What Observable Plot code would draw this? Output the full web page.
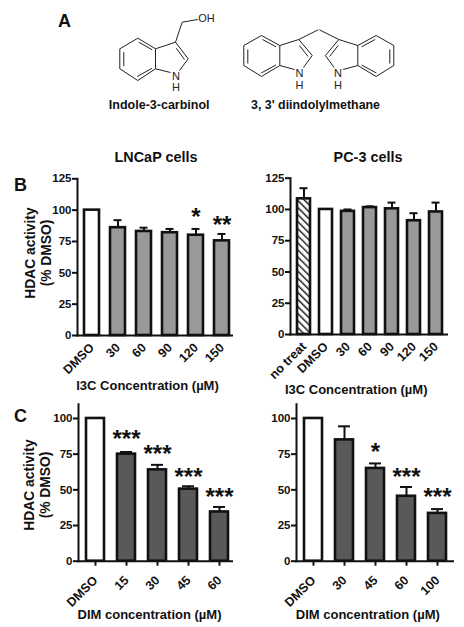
<!DOCTYPE html>
<html><head><meta charset="utf-8">
<script src="https://cdn.jsdelivr.net/npm/d3@7"></script>
<script src="https://cdn.jsdelivr.net/npm/@observablehq/plot@0.6"></script>
<style>
html,body{margin:0;padding:0;background:#fff}
#page{position:relative;width:464px;height:627px;overflow:hidden}
#page svg{position:absolute;background:transparent;overflow:visible}
</style></head><body><div id="page"></div>
<script>
const FONT = '"Liberation Sans", Arial, sans-serif';
// Panel B, LNCaP
const lncapCats = ["DMSO","30","60","90","120","150"];
const lncapMean = [100,86,83,82,80,75.5];
const lncapErr  = [null,92,86,85,85,81];
const lncapStars = [null,null,null,null,"*","**"];
const lncapStarY = [null,null,null,null,97,90.5];
// Panel B, PC-3
const pc3Cats = ["no treat","DMSO","30","60","90","120","150"];
const pc3Mean = [108.5,100,98.5,101.5,100.5,91,98];
const pc3Err  = [117,null,100,102.5,105.5,97,105.5];
// Panel C, left
const dimLCats = ["DMSO","15","30","45","60"];
const dimLMean = [100,75,64,50.5,34.5];
const dimLErr  = [null,76.5,67.5,52.5,38];
const dimLStars = [null,"***","***","***","***"];
const dimLStarY = [null,88,77,61.5,47];
// Panel C, right
const dimRCats = ["DMSO","30","45","60","100"];
const dimRMean = [100,85,65,45.5,33.5];
const dimRErr  = [null,94.5,68.5,52,36.5];
const dimRStars = [null,null,"*","***","***"];
const dimRStarY = [null,null,79,61.5,47.5];

// Chemical structures (drawing, not data)
const indoleBonds = [
 [137.3,37.7,155,48.3],[155,48.3,155,68.3],[155,68.3,137.3,80],[137.3,80,119.3,68.3],[119.3,68.3,119.3,48.3],[119.3,48.3,137.3,37.7],
 [123.3,51.7,123.3,65.7],[138.3,41.7,151.7,49.3],[136.7,76,151.7,67.7],
 [155,48.3,175,41.7],[175,41.7,187.7,58.3],[175.7,47.7,184,59],[187.7,58.3,179,70],[155,68.3,170,72],
 [175,41.7,181.7,21.7],[181.7,21.7,197.3,19]];
const dimHalf = [
 [261,35,279.3,45],[279.3,45,279.3,65],[279.3,65,261,76],[261,76,243.3,65],[243.3,65,243.3,45],[243.3,45,261,35],
 [247.3,49,247.3,63],[262,39,275.5,46.3],[260.7,72.5,275.5,64.5],
 [279.3,45,298.3,39],[298.3,39,311.7,55],[299,45,307.5,56],[311.7,55,303,67],[279.3,65,294,69],
 [298.3,39,317.7,29.3]];
const dimBonds = dimHalf.concat(dimHalf.map(([a,b,c,d])=>[636.6-a,b,636.6-c,d]));
const bonds = indoleBonds.concat(dimBonds);
const atoms = [["OH",206,17.7],["N",175.5,75.7],["H",175.5,87.3],["N",299,72.7],["H",299,85],["N",337.4,72.7],["H",337.4,85]];
const heads = [
 ["Indole-3-carbinol",158.7,104.3,12.5],["3, 3' diindolylmethane",315,104.3,12.4],
 ["LNCaP cells",155.5,157,14.4],["PC-3 cells",367.5,157,14.4],
 ["A",64,21,18],["B",20,185,18],["C",20,416,18]];

const page = document.getElementById("page");
const overlay = Plot.plot({
  width:464,height:627,margin:0,
  x:{domain:[0,464],range:[0,464],axis:null},
  y:{domain:[0,627],range:[0,627],axis:null},
  style:{fontFamily:FONT,background:"transparent"},
  marks:[
    Plot.link(bonds,{x1:d=>d[0],y1:d=>d[1],x2:d=>d[2],y2:d=>d[3],stroke:"#222",strokeWidth:1}),
    Plot.text(atoms,{text:d=>d[0],x:d=>d[1],y:d=>d[2],fontSize:11,fill:"#222"}),
    Plot.text(heads,{text:d=>d[0],x:d=>d[1],y:d=>d[2],fontSize:d=>d[3],fontWeight:"bold",fill:"#111"})
  ]});
overlay.style.left="0";overlay.style.top="0";page.appendChild(overlay);

function panel(o){
  const rows=o.cats.map((c,i)=>({c,m:o.mean[i],e:o.err[i],s:o.stars?o.stars[i]:null,sy:o.starY?o.starY[i]:null,i}));
  const isWhite=d=>d.c==="DMSO", isHatch=d=>d.c==="no treat";
  const fill=d=>isWhite(d)?"#fff":isHatch(d)?"url(#hatch)":o.color;
  const withErr=rows.filter(d=>d.e!=null), withStar=rows.filter(d=>d.s);
  const n=o.cats.length, step=(o.last-o.first)/(n-1), inner=1-o.band/step;
  const outer=(o.first-o.x0-o.band/2)/step, x1=o.last+o.band/2+outer*step;
  const W=o.right-o.left0, H=o.bottom+60-o.top0;
  const svg=Plot.plot({
    width:W,height:H,
    marginLeft:o.x0-o.left0,marginRight:W-(x1-o.left0),
    marginTop:o.yTop-o.top0,marginBottom:H-(o.y0-o.top0),
    style:{fontFamily:FONT,fontWeight:"bold",background:"transparent",color:"#111"},
    color:{type:"identity"},
    x:{domain:o.cats,paddingInner:inner,paddingOuter:outer,align:.5,label:null},
    y:{domain:[0,o.yMax],label:null},
    marks:[
      Plot.ruleX(withErr,{x:"c",y1:"m",y2:"e",stroke:"#111",strokeWidth:2}),
      Plot.tickY(withErr,{x:"c",y:"e",stroke:"#111",strokeWidth:2,insetLeft:o.capInset,insetRight:o.capInset}),
      Plot.barY(rows,{x:"c",y:"m",fill,stroke:"#111",strokeWidth:2.6}),
      Plot.axisY({ticks:[0,25,50,75,100,125].filter(t=>t<=o.yMax),tickSize:5,tickPadding:1,strokeWidth:2,fontSize:11.5,label:null}),
      o.xTick?Plot.axisX({tickSize:o.xTick,text:null,strokeWidth:2,label:null}):null,
      Plot.axisX({tickSize:0,tickPadding:0,tickRotate:-45,fontSize:12.5,label:null,dx:o.xdx,dy:o.xdy}),
      Plot.ruleY([0],{stroke:"#111",strokeWidth:2,insetLeft:-1,insetRight:x1-o.xEnd}),
      Plot.frame({anchor:"left",stroke:"#111",strokeWidth:2}),
      Plot.text(withStar,{x:"c",y:"sy",text:"s",fontSize:24,fontFamily:FONT,fill:"#111",dy:3.5,fontWeight:"bold"}),
      Plot.text([o.xLabel],{frameAnchor:"bottom",text:d=>d,fontSize:13,dx:o.xLabelX-(o.x0+x1)/2,dy:o.xLabelY-o.y0,lineAnchor:"middle",fill:"#111"}),
      o.yLabel?Plot.text([o.yLabel],{frameAnchor:"left",textAnchor:"middle",text:d=>d,rotate:-90,fontSize:13.8,dx:o.yLabelX-o.x0,dy:o.yLabelY-(o.yTop+o.y0)/2,lineHeight:1.18,fill:"#111"}):null
    ]});
  svg.insertAdjacentHTML("afterbegin",'<defs><pattern id="hatch" patternUnits="userSpaceOnUse" width="5" height="5" patternTransform="rotate(-45)"><rect width="5" height="5" fill="#fff"/><rect x="0" width="1.5" height="5" fill="#222"/></pattern></defs>');
  svg.style.left=o.left0+"px";svg.style.top=o.top0+"px";page.appendChild(svg);
}
panel({cats:lncapCats,mean:lncapMean,err:lncapErr,stars:lncapStars,starY:lncapStarY,color:"#999",
  left0:0,right:240,top0:165,bottom:345,x0:77,first:91.3,last:221.7,band:15.4,xEnd:233,yTop:178.3,y0:335,yMax:125,capInset:3.5,xTick:0,xdx:0,xdy:10,
  xLabel:"I3C Concentration (µM)",xLabelX:147,xLabelY:385.7,yLabel:"HDAC activity\n(% DMSO)",yLabelX:37,yLabelY:252.5});
panel({cats:pc3Cats,mean:pc3Mean,err:pc3Err,color:"#999",
  left0:240,right:464,top0:165,bottom:345,x0:290,first:302,last:436.3,band:13.4,xEnd:448,yTop:177.7,y0:334,yMax:125,capInset:2.5,xTick:0,xdx:0,xdy:10,
  xLabel:"I3C Concentration (µM)",xLabelX:355.7,xLabelY:389});
panel({cats:dimLCats,mean:dimLMean,err:dimLErr,stars:dimLStars,starY:dimLStarY,color:"#595959",
  left0:0,right:240,top0:395,bottom:567,x0:78,first:94.2,last:219.5,band:18,xEnd:233,yTop:403.7,y0:560.7,yMax:110,capInset:3,xTick:5,xdx:0,xdy:17,
  xLabel:"DIM concentration (µM)",xLabelX:149,xLabelY:614,yLabel:"HDAC activity\n(% DMSO)",yLabelX:36,yLabelY:484.5});
panel({cats:dimRCats,mean:dimRMean,err:dimRErr,stars:dimRStars,starY:dimRStarY,color:"#595959",
  left0:240,right:464,top0:395,bottom:567,x0:296,first:312.5,last:438,band:18,xEnd:454,yTop:403.7,y0:560.7,yMax:110,capInset:3,xTick:5,xdx:0,xdy:17,
  xLabel:"DIM concentration (µM)",xLabelX:367.3,xLabelY:614});
</script></body></html>
